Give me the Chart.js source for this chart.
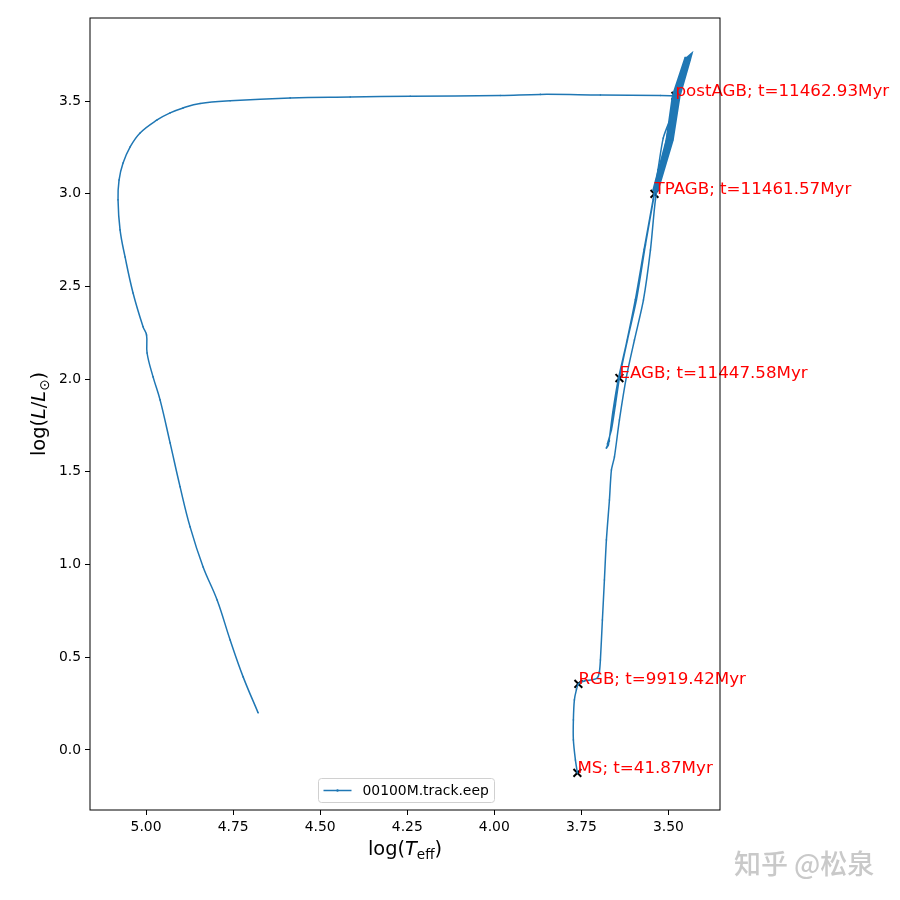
<!DOCTYPE html>
<html lang="en">
<head>
<meta charset="UTF-8">
<title>00100M.track.eep</title>
<script src="https://cdn.jsdelivr.net/npm/chart.js@4.4.1/dist/chart.umd.min.js"></script>
<style>
  html, body { margin: 0; padding: 0; background: #fff; }
  canvas { display: block; }
</style>
</head>
<body>
<canvas id="hrd" width="900" height="900"></canvas>
<script>
// track: log Teff / log L pairs, in track order
const trackTeff = [
  // MS -> RGB
  3.7615, 3.7672, 3.7730, 3.7730, 3.7701, 3.7644, 3.7586,
  // RGB up to the tip
  3.7414, 3.7184, 3.7040, 3.6983, 3.6954, 3.6897, 3.6839, 3.6782, 3.6695, 3.6638, 3.6552,
  3.6408, 3.6207, 3.5977, 3.5718, 3.5517, 3.5374, 3.5172, 3.4971,
  // flash descent, HB
  3.5150, 3.5300, 3.5440, 3.5700, 3.5950, 3.6200, 3.6440, 3.6600, 3.6724,
  3.6782, 3.6695, 3.6753,
  // EAGB
  3.6638, 3.6523, 3.6408, 3.6178, 3.5920, 3.5661, 3.5402,
  // TP-AGB, runs up and down the band
  3.4994, 3.4810, 3.4471, 3.4339,
  3.4385, 3.4681, 3.4879, 3.5305,
  3.5431, 3.5052, 3.4874, 3.4514,
  3.4428, 3.4744, 3.4937, 3.5348,
  3.4966, 3.4799,
  // post-AGB
  3.5230, 3.6954, 3.8678, 3.9828, 4.2414, 4.4138, 4.5862, 4.7586, 4.8448, 4.8937,
  4.9310, 4.9684, 5.0172, 5.0460, 5.0661, 5.0776, 5.0805, 5.0747, 5.0603, 5.0374,
  5.0086, 4.9986, 4.9971, 4.9799, 4.9598, 4.9310, 4.9023, 4.8736, 4.8362, 4.7960,
  4.7586, 4.7213, 4.6782
];
const trackLum = [
  -0.124, -0.054, 0.054, 0.162, 0.270, 0.324, 0.356,
  0.372, 0.378, 0.388, 0.421, 0.485, 0.701, 0.917, 1.133, 1.348, 1.510, 1.580,
  1.780, 2.012, 2.211, 2.427, 2.697, 2.967, 3.182, 3.387,
  3.300, 3.130, 2.970, 2.700, 2.430, 2.200, 2.000, 1.820, 1.645,
  1.629, 1.667, 1.650,
  1.726, 1.861, 2.006, 2.211, 2.427, 2.724, 2.999,
  3.290, 3.528, 3.733, 3.754,
  3.722, 3.528, 3.290, 3.021,
  3.021, 3.290, 3.528, 3.733,
  3.733, 3.528, 3.290, 3.010,
  3.290, 3.528,
  3.530, 3.533, 3.536, 3.530, 3.526, 3.522, 3.517, 3.502, 3.487, 3.463,
  3.436, 3.398, 3.328, 3.252, 3.166, 3.074, 2.967, 2.805, 2.659, 2.465,
  2.282, 2.238, 2.141, 2.012, 1.888, 1.656, 1.419, 1.203, 0.987, 0.809,
  0.593, 0.394, 0.200
];

// primary EEPs marked on the track
const eepNames = ['MS', 'RGB', 'EAGB', 'TPAGB', 'postAGB'];
const eepTeff = [3.7615, 3.7586, 3.6408, 3.5402, 3.4799];
const eepLum = [-0.124, 0.356, 2.006, 2.999, 3.528];
const eepAge = ['41.87', '9919.42', '11447.58', '11461.57', '11462.93'];

const xTicks = [5.00, 4.75, 4.50, 4.25, 4.00, 3.75, 3.50];
const yTicks = [0.0, 0.5, 1.0, 1.5, 2.0, 2.5, 3.0, 3.5];
const trackName = '00100M.track.eep';

const FONT = '"DejaVu Sans", "Liberation Sans", sans-serif';
const C0 = '#1f77b4';

const points = trackTeff.map((t, i) => ({ x: t, y: trackLum[i] }));
const eepIndex = k => trackTeff.findIndex((t, i) => t === eepTeff[k] && trackLum[i] === eepLum[k]);
const iTP = eepIndex(3), iPost = eepIndex(4);

// the track is one line, split only so each part can get its own smoothing
function trackPart(from, to, opts) {
  return Object.assign({
    data: points.slice(from, to),
    showLine: true,
    borderColor: C0,
    borderWidth: 1.5,
    pointRadius: 0.8,
    pointBackgroundColor: C0,
    pointBorderWidth: 0
  }, opts);
}

// draw text made of pieces (italic / subscript), centred on 0,0
function drawRich(ctx, parts, size) {
  const fontOf = p => (p.it ? 'oblique ' : '') + (p.sub ? size * 0.7 : size) + 'px ' + FONT;
  let total = 0;
  parts.forEach(p => { ctx.font = fontOf(p); p.w = ctx.measureText(p.t).width; total += p.w; });
  let x = -total / 2;
  ctx.textAlign = 'left';
  ctx.textBaseline = 'middle';
  parts.forEach(p => {
    ctx.font = fontOf(p);
    ctx.fillText(p.t, x, p.sub ? size * 0.28 : 0);
    x += p.w;
  });
}

const decorations = {
  id: 'decorations',
  afterDatasetsDraw(chart) {
    const ctx = chart.ctx;
    const area = chart.chartArea;
    const xs = chart.scales.x, ys = chart.scales.y;
    ctx.save();

    // EEP labels, not clipped to the axes
    ctx.fillStyle = '#ff0000';
    ctx.font = '16.7px ' + FONT;
    ctx.textAlign = 'left';
    ctx.textBaseline = 'alphabetic';
    eepNames.forEach((n, i) => {
      ctx.fillText(n + '; t=' + eepAge[i] + 'Myr', xs.getPixelForValue(eepTeff[i]), ys.getPixelForValue(eepLum[i]));
    });

    // frame
    ctx.strokeStyle = '#000';
    ctx.lineWidth = 1;
    ctx.strokeRect(area.left, area.top, area.right - area.left, area.bottom - area.top);

    // legend box, lower centre
    const lx = 318.5, ly = 778.5, lw = 176, lh = 24;
    ctx.beginPath();
    ctx.roundRect(lx, ly, lw, lh, 3);
    ctx.fillStyle = 'rgba(255,255,255,0.8)';
    ctx.fill();
    ctx.strokeStyle = '#d0d0d0';
    ctx.stroke();
    ctx.beginPath();
    ctx.moveTo(lx + 5, ly + 12);
    ctx.lineTo(lx + 33, ly + 12);
    ctx.strokeStyle = C0;
    ctx.lineWidth = 1.5;
    ctx.stroke();
    ctx.beginPath();
    ctx.arc(lx + 19, ly + 12, 1.2, 0, Math.PI * 2);
    ctx.fillStyle = C0;
    ctx.fill();
    ctx.fillStyle = '#000';
    ctx.font = '13.9px ' + FONT;
    ctx.textBaseline = 'middle';
    ctx.fillText(trackName, lx + 44, ly + 12.5);

    // axis titles
    ctx.fillStyle = '#000';
    ctx.save();
    ctx.translate((area.left + area.right) / 2, 850);
    drawRich(ctx, [{ t: 'log(' }, { t: 'T', it: true }, { t: 'eff', sub: true }, { t: ')' }], 19.4);
    ctx.restore();
    ctx.save();
    ctx.translate(40, (area.top + area.bottom) / 2);
    ctx.rotate(-Math.PI / 2);
    drawRich(ctx, [{ t: 'log(' }, { t: 'L', it: true }, { t: '/' }, { t: 'L', it: true }, { t: '\u2299', sub: true }, { t: ')' }], 19.4);
    ctx.restore();

    // site watermark
    ctx.font = '500 27px "Noto Sans CJK SC", sans-serif';
    ctx.fillStyle = 'rgba(165,165,165,0.6)';
    ctx.textAlign = 'left';
    ctx.textBaseline = 'alphabetic';
    ctx.fillText('知乎 @松泉', 734, 874);

    ctx.restore();
  }
};

const ctx = document.getElementById('hrd').getContext('2d');
new Chart(ctx, {
  type: 'scatter',
  data: {
    datasets: [
      trackPart(0, iTP + 1, { label: trackName, tension: 0.25 }),
      trackPart(iTP, iPost + 1, { label: trackName, tension: 0, borderWidth: 2.2 }),
      trackPart(iPost, points.length, { label: trackName, tension: 0.4 }),
      {
        label: 'EEP',
        data: eepTeff.map((t, i) => ({ x: t, y: eepLum[i] })),
        pointStyle: 'crossRot',
        pointRadius: 5.5,
        borderColor: '#000',
        pointBorderWidth: 2,
        borderWidth: 2
      }
    ]
  },
  options: {
    responsive: false,
    animation: false,
    devicePixelRatio: 1,
    layout: { padding: { left: 0, top: 18, right: 180, bottom: 0 } },
    plugins: { legend: { display: false }, tooltip: { enabled: false } },
    scales: {
      x: {
        type: 'linear',
        reverse: true,
        min: 3.352,
        max: 5.161,
        afterBuildTicks: s => { s.ticks = xTicks.map(v => ({ value: v })); },
        afterFit: s => { s.height = 90; },
        grid: { drawOnChartArea: false, drawTicks: true, tickLength: 5, tickColor: '#000', tickWidth: 1 },
        border: { display: false },
        ticks: { color: '#000', padding: 4, font: { family: FONT, size: 13.9 }, callback: v => v.toFixed(2), maxRotation: 0 }
      },
      y: {
        type: 'linear',
        min: -0.324,
        max: 3.948,
        afterBuildTicks: s => { s.ticks = yTicks.map(v => ({ value: v })); },
        afterFit: s => { s.width = 90; },
        grid: { drawOnChartArea: false, drawTicks: true, tickLength: 5, tickColor: '#000', tickWidth: 1 },
        border: { display: false },
        ticks: { color: '#000', padding: 4, font: { family: FONT, size: 13.9 }, callback: v => v.toFixed(1) }
      }
    }
  },
  plugins: [decorations]
});
</script>
</body>
</html>
